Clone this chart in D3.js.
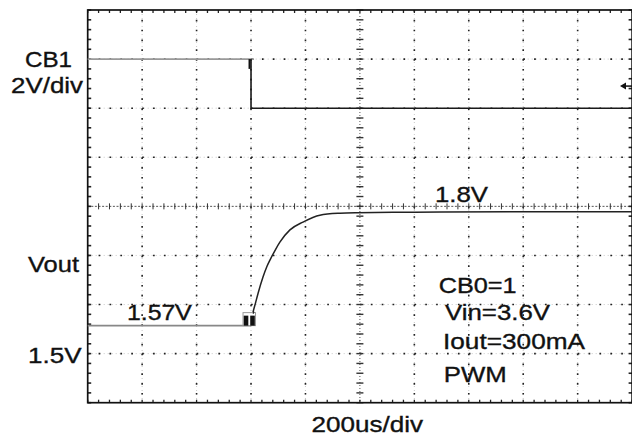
<!DOCTYPE html>
<meta charset="utf-8">
<style>
body { margin: 0; background: #fff; }
svg { display: block; }
.lbl { font-family: "Liberation Sans", Arial, sans-serif; font-size: 22px; fill: #111; stroke: #111; stroke-width: 0.35; }
</style>
<svg width="632" height="443"></svg>
<script src="https://cdn.jsdelivr.net/npm/d3@7"></script>
<script>

// time axis, 200us/div, 10 divisions
var timeTicks = [0, 200, 400, 600, 800, 1000, 1200, 1400, 1600, 1800, 2000];
var triggerTime = 600;

// CB1, 2V/div (volts)
var cb1Time = [0, 600, 600, 2000];
var cb1Volt = [2.0, 2.0, 0, 0];
var cb1TrigLevel = 0.9;

// Vout, 100mV/div (volts)
var voutTime = [0, 600, 607, 615, 626, 644, 658, 670, 690, 706, 743, 791, 853, 927, 989, 1200, 1600, 2000];
var voutVolt = [1.557, 1.557, 1.583, 1.600, 1.623, 1.656, 1.677, 1.691, 1.712, 1.727, 1.752, 1.768, 1.782, 1.786, 1.787, 1.788, 1.789, 1.789];

var leftLabels = ["CB1", "2V/div", "Vout", "1.5V"];
var notes = ["CB0=1", "Vin=3.6V", "Iout=300mA", "PWM"];

var svg = d3.select("svg");
var x0 = 87.7, x1 = 632.1, yTop = 10, yBot = 402.7;

var x = d3.scaleLinear().domain([0, 2000]).range([x0, x1]);
var yV = d3.scaleLinear().domain([1.4, 2.2]).range([yBot, yTop]);
var yC = d3.scaleLinear().domain([-12, 4]).range([yBot, yTop]);
var yDiv = d3.scaleLinear().domain([-4, 4]).range([yBot, yTop]);

var minorX = (x(200) - x(0)) / 5, minorY = (yDiv(0) - yDiv(1)) / 5;

var grid = svg.append("g");

// major grid, dotted (faint fill-in dots + darker dots at minor steps)
var vlines = timeTicks.slice(1, -1).filter(function(d){ return d != 1000; });
var hlines = [-3, -2, -1, 1, 2, 3];

grid.selectAll(".vgf").data(vlines).enter().append("line")
  .attr("x1", function(d){ return x(d); }).attr("x2", function(d){ return x(d); })
  .attr("y1", yTop).attr("y2", yBot)
  .attr("stroke", "#bbb").attr("stroke-width", 0.8).attr("stroke-dasharray", "1,3");
grid.selectAll(".vg").data(vlines).enter().append("line")
  .attr("x1", function(d){ return x(d); }).attr("x2", function(d){ return x(d); })
  .attr("y1", yTop).attr("y2", yBot)
  .attr("stroke", "#222").attr("stroke-width", 1.6)
  .attr("stroke-dasharray", "1.7," + (minorY - 1.7));

grid.selectAll(".hgf").data(hlines).enter().append("line")
  .attr("x1", x0).attr("x2", x1)
  .attr("y1", function(d){ return yDiv(d); }).attr("y2", function(d){ return yDiv(d); })
  .attr("stroke", "#bbb").attr("stroke-width", 0.8).attr("stroke-dasharray", "1,3");
grid.selectAll(".hg").data(hlines).enter().append("line")
  .attr("x1", x0).attr("x2", x1)
  .attr("y1", function(d){ return yDiv(d); }).attr("y2", function(d){ return yDiv(d); })
  .attr("stroke", "#222").attr("stroke-width", 1.6)
  .attr("stroke-dasharray", "1.7," + (minorX - 1.7));

// center axes
var cx = x(1000), cy = yDiv(0);
grid.append("line").attr("x1", x0).attr("x2", x1).attr("y1", cy).attr("y2", cy)
  .attr("stroke", "#555").attr("stroke-width", 1).attr("stroke-dasharray", "2,1.6");
grid.append("line").attr("x1", cx).attr("x2", cx).attr("y1", yTop).attr("y2", yBot)
  .attr("stroke", "#555").attr("stroke-width", 1).attr("stroke-dasharray", "1,2");

var mx = d3.range(0, 51).map(function(i){ return x0 + i * minorX; });
var my = d3.range(0, 41).map(function(i){ return yTop + i * minorY; });

grid.selectAll(".ctx").data(mx).enter().append("line")
  .attr("x1", function(d){ return d; }).attr("x2", function(d){ return d; })
  .attr("y1", cy - 3).attr("y2", cy + 3)
  .attr("stroke", "#333").attr("stroke-width", 1);
grid.selectAll(".cty").data(my).enter().append("line")
  .attr("y1", function(d){ return d; }).attr("y2", function(d){ return d; })
  .attr("x1", cx - 3.5).attr("x2", cx + 3.5)
  .attr("stroke", "#333").attr("stroke-width", 1.4);

// border ticks
grid.selectAll(".lt").data(my).enter().append("line")
  .attr("y1", function(d){ return d; }).attr("y2", function(d){ return d; })
  .attr("x1", x0).attr("x2", x0 + 3.5).attr("stroke", "#222").attr("stroke-width", 1.6);
grid.selectAll(".rt").data(my).enter().append("line")
  .attr("y1", function(d){ return d; }).attr("y2", function(d){ return d; })
  .attr("x1", x1 - 3.5).attr("x2", x1).attr("stroke", "#222").attr("stroke-width", 1.6);
grid.selectAll(".tt").data(mx).enter().append("line")
  .attr("x1", function(d){ return d; }).attr("x2", function(d){ return d; })
  .attr("y1", yTop).attr("y2", yTop + 3).attr("stroke", "#222").attr("stroke-width", 1.3);
grid.selectAll(".bt").data(mx).enter().append("line")
  .attr("x1", function(d){ return d; }).attr("x2", function(d){ return d; })
  .attr("y1", yBot - 3).attr("y2", yBot).attr("stroke", "#222").attr("stroke-width", 1.3);

grid.append("rect").attr("x", x0).attr("y", yTop).attr("width", x1 - x0).attr("height", yBot - yTop)
  .attr("fill", "none").attr("stroke", "#111").attr("stroke-width", 1.7);

// traces
function pts(ts, vs, y) { return ts.map(function(t, i){ return [x(t), y(vs[i])]; }); }
var line = d3.line();
var curve = d3.line().curve(d3.curveMonotoneX);

var cb1 = pts(cb1Time, cb1Volt, yC);
svg.append("path").attr("d", line(cb1.slice(0, 2).concat([[x(triggerTime) + 3, cb1[1][1]]])))
  .attr("fill", "none").attr("stroke", "#999").attr("stroke-width", 1.7);
svg.append("path").attr("d", line(cb1.slice(1)))
  .attr("fill", "none").attr("stroke", "#1a1a1a").attr("stroke-width", 1.6);
svg.append("line").attr("x1", x(triggerTime) - 1.5).attr("x2", x(triggerTime) - 1.5)
  .attr("y1", yC(2.0)).attr("y2", yC(1.6)).attr("stroke", "#111").attr("stroke-width", 2);

var vo = pts(voutTime, voutVolt, yV);
svg.append("path").attr("d", line(vo.slice(0, 2)))
  .attr("fill", "none").attr("stroke", "#888").attr("stroke-width", 1.6);
svg.append("path").attr("d", curve(vo.slice(1)))
  .attr("fill", "none").attr("stroke", "#222").attr("stroke-width", 1.5);

// trigger position marker
var tx = x(triggerTime), ty = yV(voutVolt[0]);
svg.append("rect").attr("x", tx - 8).attr("y", ty - 13).attr("width", 12.5).attr("height", 13)
  .attr("fill", "#fff").attr("stroke", "#999").attr("stroke-width", 1);
svg.append("rect").attr("x", tx - 7.3).attr("y", ty - 10).attr("width", 4.6).attr("height", 10).attr("fill", "#111");
svg.append("rect").attr("x", tx - 0.8).attr("y", ty - 10).attr("width", 4.6).attr("height", 10).attr("fill", "#111");
svg.append("line").attr("x1", tx + 2).attr("x2", tx + 3).attr("y1", ty - 12).attr("y2", ty - 14)
  .attr("stroke", "#222").attr("stroke-width", 1.2);

// trigger level arrow
var ay = yC(cb1TrigLevel);
svg.append("path").attr("d", "M620," + ay + "l6,-3.5v7z").attr("fill", "#111");
svg.append("line").attr("x1", 624).attr("x2", 632).attr("y1", ay).attr("y2", ay)
  .attr("stroke", "#111").attr("stroke-width", 1.5);

// labels
function label(txt, px, py, w) {
  svg.append("text").attr("class", "lbl").attr("x", px).attr("y", py)
    .attr("textLength", w).attr("lengthAdjust", "spacingAndGlyphs").text(txt);
}
label(leftLabels[0], 25, yDiv(3) + 7.5, 47);
label(leftLabels[1], 11, yDiv(3) + 33.5, 72);
label(leftLabels[2], 28, yDiv(-1) + 16.5, 51);
label(leftLabels[3], 28, yV(1.5) + 9.3, 53.5);
label("1.57V", x(144), yV(voutVolt[0]) - 5.7, 65);
label("1.8V", x(1276), yV(1.8) - 4.8, 53);
label("200us/div", x(822), 431.7, 111.6);
label(notes[0], 438.7, 293, 78);
label(notes[1], 445, 320, 105);
label(notes[2], 443, 349, 142);
label(notes[3], 443.7, 382, 63);

</script>
